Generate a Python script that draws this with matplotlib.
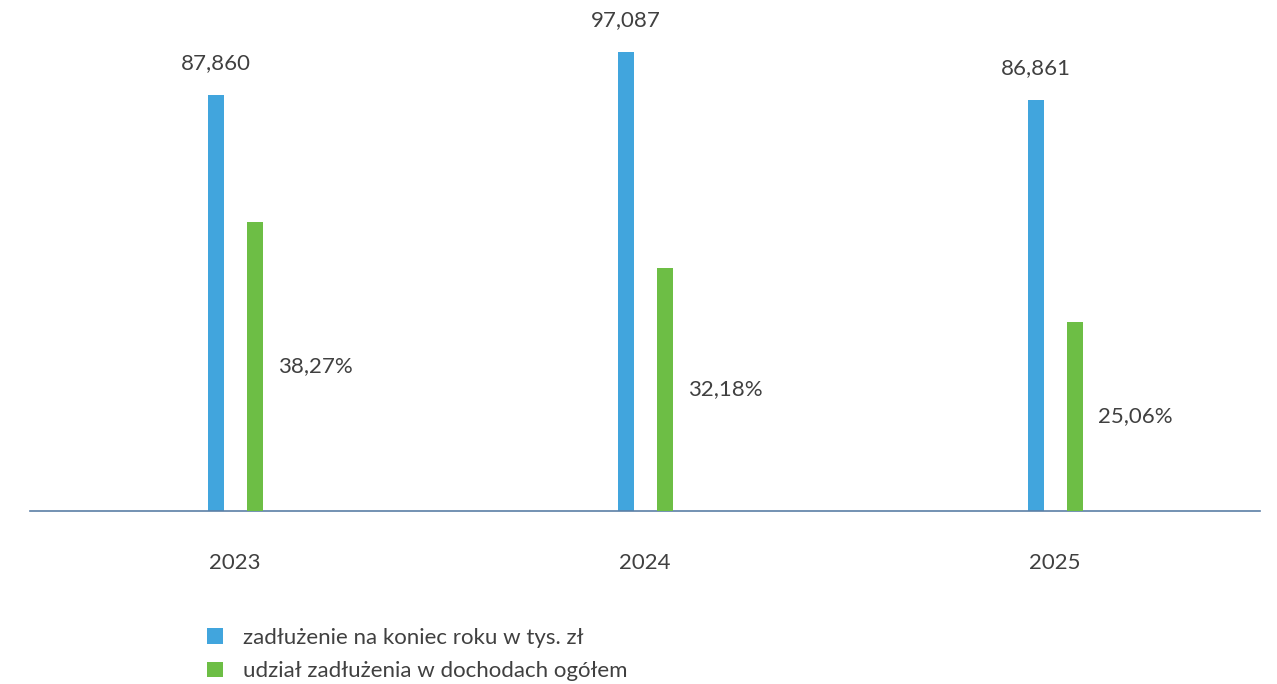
import matplotlib
matplotlib.use("Agg")
import matplotlib.pyplot as plt
import numpy as np

years = ["2023", "2024", "2025"]
debt = [87.860, 97.087, 86.861]
debt_labels = ["87,860", "97,087", "86,861"]
share = [38.27, 32.18, 25.06]
share_labels = ["38,27%", "32,18%", "25,06%"]
series_names = ["zadłużenie na koniec roku w tys. zł", "udział zadłużenia w dochodach ogółem"]

BLUE = "#41A5DD"
GREEN = "#6DBE45"
TEXT = "#404040"
AXIS = "#5B7FA6"

plt.rcParams['font.family'] = ['Lato', 'DejaVu Sans']

W, H = 1277, 684
fig = plt.figure(figsize=(W / 100, H / 100), dpi=100)
left, right, bottom, top = 30, 1260, 511, 11
ax = fig.add_axes([left / W, (H - bottom) / H, (right - left) / W, (bottom - top) / H])
ax2 = ax.twinx()

x = np.arange(len(years))
bw = 16 / 410
off = 19.5 / 410
b1 = ax.bar(x - off, debt, width=bw, color=BLUE, label=series_names[0])
b2 = ax2.bar(x + off, share, width=bw, color=GREEN, label=series_names[1])

ax.set_xlim(-0.5, 2.5)
ax.set_ylim(0, 500 / 4.73)
ax2.set_ylim(0, 500 / 7.55)

for xi, v, lab in zip(x, debt, debt_labels):
    ax.annotate(lab, (xi - off, v), xytext=(0, 23), textcoords="offset points",
                ha="center", va="center", fontsize=16, color=TEXT)
for xi, v, lab in zip(x, share, share_labels):
    ax2.annotate(lab, (xi + off + bw / 2, v / 2), xytext=(11, 0), textcoords="offset points",
                 ha="left", va="center", fontsize=16, color=TEXT)

for a in (ax, ax2):
    for s in ("top", "right", "left"):
        a.spines[s].set_visible(False)
    a.set_yticks([])
ax.spines["bottom"].set_color(AXIS)
ax.spines["bottom"].set_linewidth(1.2)
ax2.spines["bottom"].set_visible(False)
ax.set_xticks(x)
ax.set_xticklabels(years, fontsize=16, color=TEXT)
ax.tick_params(axis="x", length=0, pad=30)

fig.legend(handles=[b1, b2], labels=series_names, loc="upper left",
           bbox_to_anchor=(207 / W, 1 - 628 / H), frameon=False, fontsize=16,
           handlelength=0.72, handleheight=0.72, handletextpad=0.9,
           labelspacing=0.6, labelcolor=TEXT, borderaxespad=0, borderpad=0)

fig.savefig("out.png", dpi=100)
